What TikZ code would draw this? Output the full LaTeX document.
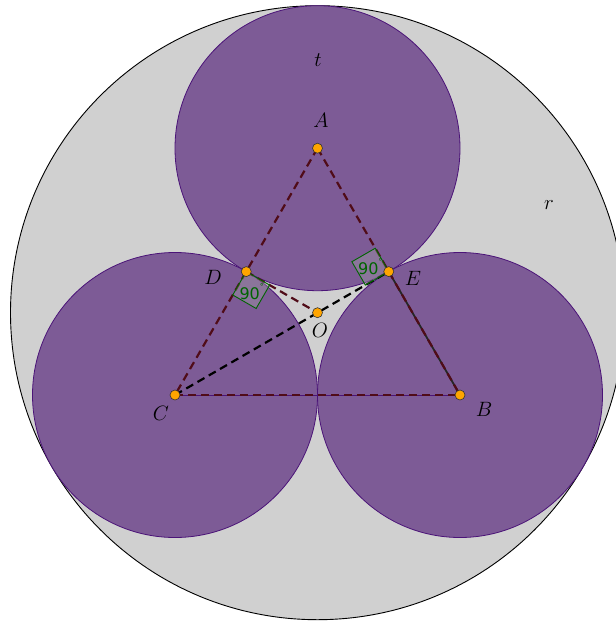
\documentclass[tikz,border=0pt]{standalone}
\usepackage{fontspec}
\newfontfamily\gfont{DejaVu Sans}
\usetikzlibrary{calc}
\definecolor{biggray}{RGB}{208,208,208}
\definecolor{circfill}{RGB}{125,91,150}
\definecolor{circline}{RGB}{75,20,120}
\definecolor{segbrown}{RGB}{80,12,24}
\definecolor{anglegreen}{RGB}{0,100,0}
\definecolor{ptorange}{RGB}{255,165,0}
\tikzset{
  bigcirc/.style={fill=biggray,draw=black,line width=0.9pt},
  smallcirc/.style={fill=circfill,draw=circline,line width=0.8pt},
  brownseg/.style={draw=segbrown,line width=2.2pt,dash pattern=on 8pt off 5pt},
  blackseg/.style={draw=black,line width=2.2pt,dash pattern=on 8pt off 5pt},
  solidseg/.style={draw=black!85,line width=1.8pt},
  thinseg/.style={draw=circline,line width=0.8pt},
  ptdot/.style={circle,fill=ptorange,draw=black!80,line width=0.6pt,inner sep=0pt,minimum size=10pt},
  lbl/.style={font=\fontsize{20}{24}\selectfont,inner sep=0pt},
  rangle/.style={draw=anglegreen,line width=0.9pt,fill=gray!70,fill opacity=0.35},
  rtext/.style={text=anglegreen,font=\gfont\fontsize{16}{18}\selectfont,inner sep=0pt}
}
\begin{document}
\begin{tikzpicture}[x=1pt,y=-1pt]
\useasboundingbox (0,0) rectangle (616,622);
\coordinate (C) at (175,395);
\coordinate (B) at (460,395);
\coordinate (A) at (317.5,148.2);
\coordinate (O) at (317.5,312.7);
\coordinate (D) at ($(A)!0.5!(C)$);
\coordinate (E) at ($(A)!0.5!(B)$);
% circles
\path[bigcirc] (O) circle (307pt);
\path[smallcirc] (A) circle (142.5pt);
\path[smallcirc] (B) circle (142.5pt);
\path[smallcirc] (C) circle (142.5pt);
% segments
\draw[thinseg] (C) -- (B);
\draw[solidseg] (E) -- (B);
\draw[brownseg] (A) -- (C);
\draw[brownseg] (A) -- (B);
\draw[brownseg] (C) -- (B);
\draw[brownseg] (D) -- (O);
\draw[blackseg] (C) -- (E);
% right angles
\coordinate (d1) at ($(D)!27pt!(C)$);
\coordinate (d2) at ($(D)!27pt!(O)$);
\coordinate (d3) at ($(d1)+(d2)-(D)$);
\draw[rangle] (D) -- (d1) -- (d3) -- (d2) -- cycle;
\node[rtext] (ra1) at ($(D)!0.55!(d3)$) {90\raisebox{1.1ex}{\fontsize{8}{8}\selectfont°}};
\coordinate (e1) at ($(E)!27pt!(A)$);
\coordinate (e2) at ($(E)!27pt!(O)$);
\coordinate (e3) at ($(e1)+(e2)-(E)$);
\draw[rangle] (E) -- (e1) -- (e3) -- (e2) -- cycle;
\node[rtext] (ra2) at ($(E)!0.5!(e3)$) {90\raisebox{1.1ex}{\fontsize{8}{8}\selectfont°}};
% points
\foreach \p in {A,B,C,D,E,O} \node[ptdot] (p\p) at (\p) {};
% labels
\node[lbl] (lA) at (321,120) {$A$};
\node[lbl] (lB) at (484,409) {$B$};
\node[lbl] (lC) at (161,413) {$C$};
\node[lbl] (lD) at (213,277) {$D$};
\node[lbl] (lE) at (413,278) {$E$};
\node[lbl] (lO) at (320,330) {$O$};
\node[lbl] (lt) at (318,60) {$t$};
\node[lbl] (lr) at (549,205) {$r$};
\end{tikzpicture}
\end{document}
